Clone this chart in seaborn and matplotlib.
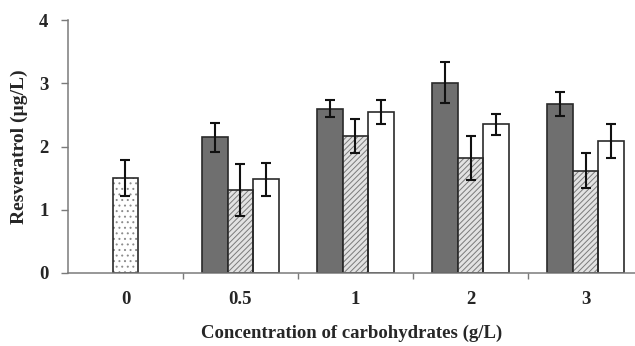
import matplotlib
matplotlib.use("Agg")
import matplotlib.pyplot as plt
import seaborn as sns
import pandas as pd
import numpy as np

# Carbohydrate concentrations (g/L) and resveratrol yields (µg/L)
concentrations = ["0", "0.5", "1", "2", "3"]
control_value = [1.50]
control_err = [0.29]

series_names = ["A", "B", "C"]
values_a = [2.15, 2.60, 3.01, 2.68]
errors_a = [0.23, 0.13, 0.32, 0.19]
values_b = [1.31, 2.16, 1.82, 1.62]
errors_b = [0.41, 0.27, 0.35, 0.28]
values_c = [1.48, 2.54, 2.35, 2.09]
errors_c = [0.26, 0.19, 0.16, 0.27]

sns.set_style("white")
plt.rcParams["font.family"] = ["Liberation Serif", "DejaVu Serif"]
plt.rcParams["font.weight"] = "bold"
plt.rcParams["hatch.linewidth"] = 0.7

fig = plt.figure(figsize=(6.35, 3.46), dpi=100)
ax = fig.add_axes([0.107, 0.211, 0.893, 0.731])

ctrl_df = pd.DataFrame({"conc": ["0"], "val": control_value})
rows = []
for name, vals in zip(series_names, [values_a, values_b, values_c]):
    for c, v in zip(concentrations[1:], vals):
        rows.append({"conc": c, "series": name, "val": v})
treat_df = pd.DataFrame(rows)

edge = "#2a2a2a"
ctrl_kw = dict(data=ctrl_df, x="conc", y="val", order=concentrations,
               width=0.223, errorbar=None, ax=ax, saturation=1)
treat_kw = dict(data=treat_df, x="conc", y="val", hue="series",
                order=concentrations, hue_order=series_names, width=0.67,
                errorbar=None, ax=ax, saturation=1, legend=False)


def new_patches(before):
    return [p for p in ax.patches[before:] if p.get_height() > 0]


# control bar: white fill with grey dot pattern
n0 = len(ax.patches)
sns.barplot(color="white", edgecolor="#8c8c8c", linewidth=0, **ctrl_kw)
ctrl_patches = new_patches(n0)
for p in ctrl_patches:
    p.set_hatch("...")

# treatment bars: dark, hatched light grey, white
n1 = len(ax.patches)
sns.barplot(palette=["#6f6f6f", "#e2e2e2", "white"], edgecolor=edge,
            linewidth=1.2, **treat_kw)
treat_patches = new_patches(n1)
# patches come ordered by hue level, then category
for i, p in enumerate(treat_patches):
    if i // 4 == 1:
        p.set_hatch("//////")
        p.set_edgecolor("#7a7a7a")
        p.set_linewidth(0)

# dark outlines drawn over the patterned bars
sns.barplot(fill=False, color=edge, linewidth=1.2, **ctrl_kw)
n2 = len(ax.patches)
sns.barplot(fill=False, palette=[edge, edge, edge], linewidth=1.2, **treat_kw)
for i, p in enumerate(new_patches(n2)):
    if i // 4 != 1:
        p.set_visible(False)
    else:
        p.set_edgecolor(edge)

errs_all = [errors_a, errors_b, errors_c]
vals_all = [values_a, values_b, values_c]


def draw_err(plist, vals, errs):
    xs = [p.get_x() + p.get_width() / 2 for p in plist]
    ax.errorbar(xs, vals, yerr=errs, fmt="none", ecolor="#111111",
                elinewidth=1.5, capsize=3.5, capthick=1.5, zorder=5)


draw_err(ctrl_patches, control_value, control_err)
for s in range(3):
    draw_err(treat_patches[s * 4:(s + 1) * 4], vals_all[s], errs_all[s])

ax.set_xlim(-0.5, 4.43)
ax.set_ylim(0, 4)
ax.set_yticks([0, 1, 2, 3, 4])
ax.set_xticks(range(len(concentrations)))
ax.set_xticklabels(concentrations)
ax.set_xticks([0.5, 1.5, 2.5, 3.5], minor=True)

axis_color = "#7a7a7a"
for side in ["top", "right"]:
    ax.spines[side].set_visible(False)
for side in ["left", "bottom"]:
    ax.spines[side].set_color(axis_color)
    ax.spines[side].set_linewidth(1.1)

ax.tick_params(axis="y", direction="out", length=5, width=1, color=axis_color,
               left=True, pad=9, labelsize=13.5)
ax.tick_params(axis="x", which="major", length=0, pad=13, labelsize=13.5)
ax.tick_params(axis="x", which="minor", direction="out", length=4, width=1,
               color=axis_color, bottom=True)

ax.set_xlabel("Concentration of carbohydrates (g/L)", fontsize=13.5,
              fontweight="bold", labelpad=12)
ax.set_ylabel("Resveratrol (µg/L)", fontsize=14, fontweight="bold", labelpad=8)

fig.savefig("out.png", dpi=100)
